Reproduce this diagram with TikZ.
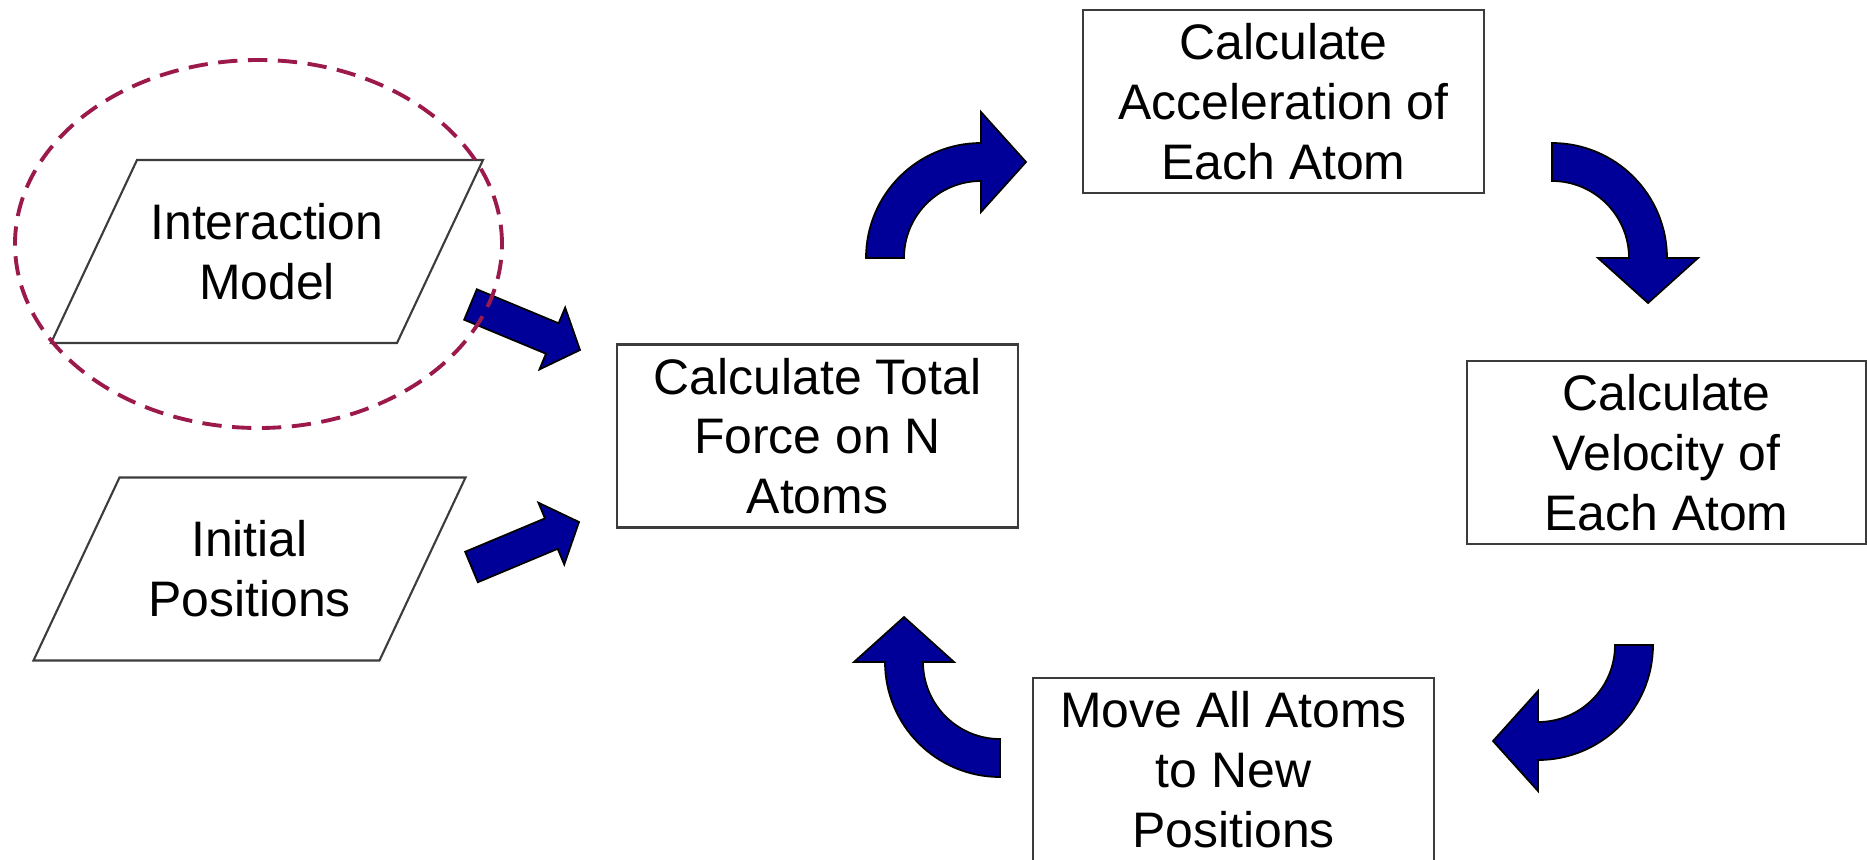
\documentclass[tikz,border=0pt]{standalone}
\usepackage{fontspec}
\setmainfont{Liberation Sans}
\usepackage{xcolor}
\definecolor{arrownavy}{RGB}{0, 0, 153}
\definecolor{ringred}{RGB}{155, 25, 75}
\definecolor{boxgrey}{RGB}{60, 60, 60}
\usepackage{tikz}
\usetikzlibrary{positioning, calc}

\tikzset{
  stepbox/.style={draw=boxgrey, line width=0.6pt, rectangle, minimum width=4.01cm, minimum height=1.83cm,
    align=center, inner sep=0pt, font=\fontsize{14.2}{17}\selectfont},
  datatext/.style={align=center, inner sep=0pt, font=\fontsize{14.2}{17}\selectfont},
  bigarrow/.style={fill=arrownavy, draw=black, line width=0.5pt, line join=miter},
}

% parallelogram round a text node
\newcommand{\slantbox}[1]{%
  \draw[boxgrey, line width=0.6pt] ($(#1)+(-2.16,-0.915)$) -- ($(#1)+(1.30,-0.915)$)
    -- ($(#1)+(2.16,0.915)$) -- ($(#1)+(-1.30,0.915)$) -- cycle;}

% straight block arrow from tail #1 to tip #2
\newcommand{\blockarrow}[2]{%
  \coordinate (h) at ($(#2)!0.30cm!(#1)$);
  \draw[bigarrow] ($(#1)!0.165cm!90:(#2)$) -- ($(h)!0.165cm!90:(#2)$) -- ($(h)!0.335cm!90:(#2)$) -- (#2)
    -- ($(h)!0.335cm!-90:(#2)$) -- ($(h)!0.165cm!-90:(#2)$) -- ($(#1)!0.165cm!-90:(#2)$) -- cycle;}

% curved block arrow round centre #1, clockwise from angle #2 to angle #3
\newcommand{\turnarrow}[3]{%
  \draw[bigarrow] ($(#1)+(#2:1.15)$) arc[start angle=#2, end angle=#3, radius=1.15]
    -- ($(#1)+(#3:1.46)$) -- ($(#1)+(#3:0.96)+({#3-90}:0.45)$) -- ($(#1)+(#3:0.46)$)
    -- ($(#1)+(#3:0.77)$) arc[start angle=#3, end angle=#2, radius=0.77] -- cycle;}

\begin{document}
\begin{tikzpicture}
    \useasboundingbox (0,0) rectangle (18.67,8.59);

    \node[datatext] (model) at (2.67, 6.075) {Interaction\\Model};
    \node[datatext] (init) at (2.495, 2.90) {Initial\\Positions};
    \slantbox{model}
    \slantbox{init}

    \node[stepbox] (force) at (8.175, 4.23) {Calculate Total\\Force on N\\Atoms};
    \node[stepbox] (accel) at (12.835, 7.575) {Calculate\\Acceleration of\\Each Atom};
    \node[stepbox, minimum width=3.99cm] (veloc) at (16.665, 4.065) {Calculate\\Velocity of\\Each Atom};
    \node[stepbox] (move) at (12.335, 0.895) {Move All Atoms\\to New\\Positions};

    \coordinate (modeltail) at (4.705, 5.545);
    \coordinate (modeltip) at (5.80, 5.09);
    \coordinate (inittail) at (4.715, 2.92);
    \coordinate (inittip) at (5.79, 3.37);
    \blockarrow{modeltail}{modeltip}
    \blockarrow{inittail}{inittip}

    \coordinate (turnup) at (9.81, 6.01);
    \coordinate (turnright) at (15.52, 6.01);
    \coordinate (turndown) at (15.38, 2.14);
    \coordinate (turnleft) at (10.00, 1.97);
    \turnarrow{turnup}{180}{90}
    \turnarrow{turnright}{90}{0}
    \turnarrow{turndown}{0}{-90}
    \turnarrow{turnleft}{-90}{-180}

    \draw[ringred, line width=1.1pt, dash pattern=on 5.5pt off 3pt] ($(model.center)+(-0.085,0.075)$) ellipse [x radius=2.435, y radius=1.84];
\end{tikzpicture}
\end{document}
